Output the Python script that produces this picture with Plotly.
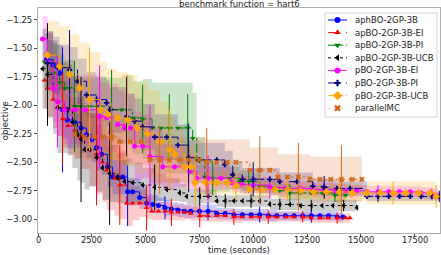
import plotly.graph_objects as go

# ---------------- data ----------------
names = ["aphBO-2GP-3B", "apBO-2GP-3B-EI", "apBO-2GP-3B-PI", "apBO-2GP-3B-UCB",
         "pBO-2GP-3B-EI", "pBO-2GP-3B-PI", "pBO-2GP-3B-UCB", "parallelMC"]

blue_t = [400,700,1000,1140,1373,1700,2000,2257,2500,2722,2955,3234,3466,3700,3932,4164,4397,4723,5050,5328,
          5600,5900,6200,6500,6800,7100,7500,7900,8300,8700,9100,9500,9900,10300,10700,11100,11500,11900,12300,12700,
          13100,13500,13900,14170]
blue_m = [-1.60,-1.65,-1.72,-2.04,-2.13,-2.15,-2.20,-2.26,-2.30,-2.37,-2.43,-2.54,-2.63,-2.63,-2.63,-2.76,-2.76,-2.81,-2.86,-2.87,
          -2.88,-2.90,-2.91,-2.92,-2.93,-2.93,-2.93,-2.93,-2.95,-2.95,-2.96,-2.96,-2.96,-2.96,-2.97,-2.97,-2.97,-2.97,-2.97,-2.97,
          -2.97,-2.97,-2.98,-2.98]
blue_s = [0.25,0.25,0.25,0.25,0.25,0.22,0.22,0.2,0.2,0.2,0.18,0.18,0.15,0.15,0.15,0.12,0.12,0.1,0.08,0.08,
          0.07,0.07,0.06,0.06,0.06,0.06,0.06,0.06,0.05,0.05,0.05,0.05,0.05,0.05,0.05,0.04,0.04,0.04,0.04,0.04,
          0.04,0.04,0.04,0.04]
blue_e = [0,0,0,0.55,0,0,0,0,0,0.45,0,0,0,0,0,0.3,0,0,0,0,
          0,0.1,0,0,0,0,0,0.08,0,0,0,0,0,0.07,0,0,0,0,0,0.06,
          0,0,0,0]

red_t = [300,442,700,907,1140,1400,1700,2000,2396,2722,3000,3187,3560,3800,4118,4397,4723,5048,5281,5600,
         5900,6200,6500,6800,7100,7515,7900,8300,8700,9100,9500,9900,10300,10700,11100,11500,11900,12300,12700,13100,
         13500,13900,14300,14500]
red_m = [-1.78,-1.85,-1.95,-2.02,-2.12,-2.18,-2.22,-2.28,-2.39,-2.43,-2.50,-2.57,-2.64,-2.70,-2.86,-2.86,-2.86,-2.90,-2.93,-2.93,
         -2.93,-2.94,-2.94,-2.94,-2.95,-2.97,-2.97,-2.97,-2.97,-2.98,-2.98,-2.98,-2.98,-2.98,-2.98,-2.98,-2.98,-2.98,-2.99,-2.99,
         -2.99,-2.99,-2.99,-2.99]
red_s = [0.25,0.25,0.25,0.25,0.25,0.25,0.25,0.28,0.32,0.35,0.35,0.35,0.33,0.3,0.2,0.15,0.12,0.1,0.08,0.08,
         0.08,0.07,0.07,0.06,0.06,0.05,0.05,0.05,0.05,0.05,0.04,0.04,0.04,0.04,0.04,0.04,0.04,0.04,0.04,0.04,
         0.04,0.04,0.04,0.04]
red_e = [0,0,0,0,0.4,0,0,0,0,0.45,0,0,0,0.35,0,0,0,0.2,0,0,
         0,0.12,0,0,0,0.1,0,0,0,0.07,0,0,0,0.06,0,0,0,0.05,0,0,
         0,0.05,0,0]

green_t = [300,700,1000,1233,1466,1698,2000,2396,2862,3420,3885,4397,4862,5300,5700,6100,6500,6956,7189,7375,
           7747,8119,8500,8900,9376,9800,10306,10771,11237,11700,12200,12700,13200,13796,14300]
green_m = [-1.62,-1.72,-1.80,-1.85,-1.85,-2.01,-2.01,-2.01,-2.01,-2.04,-2.04,-2.11,-2.12,-2.20,-2.20,-2.20,-2.20,-2.20,-2.29,-2.48,
           -2.63,-2.64,-2.64,-2.64,-2.67,-2.67,-2.71,-2.72,-2.75,-2.77,-2.77,-2.77,-2.77,-2.79,-2.79]
green_s = [0.25,0.25,0.25,0.25,0.25,0.25,0.25,0.25,0.25,0.28,0.3,0.32,0.35,0.4,0.4,0.4,0.4,0.4,0.4,0.2,
           0.15,0.12,0.12,0.1,0.1,0.08,0.07,0.07,0.06,0.06,0.06,0.06,0.06,0.06,0.06]
green_e = [0,0,0,0,0,0.4,0,0,0,0.35,0,0,0.3,0,0,0.3,0,0.3,0,0,
           0,0.15,0,0,0,0.1,0,0,0,0.08,0,0,0,0.06,0]

black_t = [209,442,700,907,1373,1600,1838,2000,2164,2396,2722,3000,3327,3700,4025,4397,4862,5421,5979,6584,
           6910,7515,7900,8306,8700,9100,9500,9900,10300,10771,11237,11700,12200,12700,13200,13700,14200,14820]
black_m = [-1.68,-1.73,-1.85,-2.02,-2.04,-2.15,-2.26,-2.30,-2.39,-2.39,-2.46,-2.55,-2.60,-2.64,-2.67,-2.68,-2.70,-2.72,-2.74,-2.77,
           -2.80,-2.80,-2.80,-2.84,-2.84,-2.84,-2.84,-2.84,-2.84,-2.87,-2.87,-2.87,-2.88,-2.88,-2.88,-2.88,-2.88,-2.90]
black_s = [0.35,0.38,0.4,0.4,0.4,0.4,0.4,0.38,0.35,0.32,0.3,0.28,0.25,0.22,0.2,0.18,0.15,0.12,0.1,0.08,
           0.07,0.06,0.06,0.05,0.05,0.05,0.05,0.05,0.05,0.05,0.05,0.05,0.05,0.05,0.05,0.05,0.05,0.05]
black_e = [0,0.45,0,0,0,0,0,0.55,0,0,0,0,0.45,0,0,0,0,0.2,0,0,
           0,0.08,0,0,0.06,0,0,0.06,0,0,0.05,0,0,0.05,0,0,0.05,0]

mag_t = [209,442,700,907,1233,1700,2200,2862,3187,3700,4025,4300,4490,4862,5200,5793,6350,7049,7375,7900,
         8500,9000,9500,10000,10771,11500,12200,12772,13300,13800,14300,14800,15285,15800,16300,16800,17300,17800,18300,18600]
mag_m = [-1.42,-1.62,-1.85,-1.97,-2.04,-2.04,-2.04,-2.10,-2.11,-2.17,-2.20,-2.20,-2.36,-2.36,-2.45,-2.54,-2.54,-2.58,-2.64,-2.64,
         -2.64,-2.68,-2.70,-2.70,-2.72,-2.73,-2.73,-2.74,-2.74,-2.75,-2.75,-2.75,-2.76,-2.76,-2.76,-2.76,-2.76,-2.77,-2.78,-2.80]
mag_s = [0.2,0.25,0.3,0.3,0.3,0.3,0.3,0.3,0.3,0.3,0.3,0.3,0.3,0.28,0.25,0.2,0.18,0.15,0.12,0.1,
         0.1,0.08,0.08,0.07,0.07,0.06,0.06,0.06,0.06,0.06,0.05,0.05,0.05,0.05,0.05,0.05,0.05,0.05,0.05,0.05]
mag_e = [0,0,0,0.4,0,0,0,0.45,0,0,0,0,0,0,0.45,0,0,0,0,0.2,
         0,0,0,0,0.1,0,0,0,0.08,0,0,0,0,0.06,0,0,0,0,0.05,0]

navy_t = [442,907,1466,1838,2257,2722,3187,3327,4118,4490,4862,5421,5979,6500,7000,7500,8306,8678,9050,9500,
          10000,10771,11237,12028,12772,13300,13889,14500,15285,15800,16300,16800,17300,17800,18300,18650]
navy_m = [-1.63,-1.67,-1.69,-1.79,-1.91,-1.95,-1.98,-2.04,-2.10,-2.14,-2.19,-2.28,-2.28,-2.35,-2.46,-2.48,-2.48,-2.52,-2.61,-2.65,
          -2.65,-2.65,-2.67,-2.67,-2.71,-2.72,-2.73,-2.73,-2.80,-2.80,-2.80,-2.80,-2.80,-2.80,-2.80,-2.80]
navy_s = [0.2,0.2,0.2,0.2,0.2,0.2,0.2,0.2,0.2,0.2,0.2,0.2,0.2,0.18,0.15,0.15,0.15,0.12,0.12,0.1,
          0.1,0.1,0.08,0.08,0.07,0.07,0.06,0.06,0.04,0.04,0.04,0.04,0.04,0.04,0.04,0.04]
navy_e = [0,0,0.35,0,0,0,0,0,0.35,0,0,0,0,0,0.3,0,0,0,0,0,
          0.15,0,0,0,0,0.1,0,0,0,0.05,0,0,0,0,0,0.05]

orange_t = [442,1000,1466,1931,2396,2900,3234,3699,4164,4600,5100,5653,6119,6351,6800,7100,7300,7800,8300,8800,
            9200,9841,10400,11000,11600,12200,12800,13400,14000,14600,15285,15900,16500,17100,17700,18200,18500]
orange_m = [-1.56,-1.66,-1.73,-1.85,-1.95,-2.04,-2.08,-2.11,-2.13,-2.20,-2.25,-2.32,-2.39,-2.43,-2.54,-2.54,-2.68,-2.68,-2.68,-2.68,
            -2.71,-2.74,-2.74,-2.74,-2.74,-2.75,-2.76,-2.76,-2.76,-2.77,-2.77,-2.77,-2.77,-2.77,-2.77,-2.77,-2.80]
orange_s = [0.3,0.35,0.35,0.4,0.42,0.42,0.4,0.4,0.4,0.4,0.38,0.35,0.3,0.25,0.2,0.18,0.1,0.1,0.1,0.1,
            0.08,0.07,0.07,0.07,0.07,0.07,0.07,0.07,0.07,0.07,0.1,0.1,0.1,0.1,0.1,0.1,0.1]
orange_e = [0,0,0,0,0.45,0,0,0,0.4,0,0,0,0.35,0,0,0,0.25,0,0,0,
            0.12,0,0,0,0.1,0,0,0,0.1,0,0,0,0.1,0,0,0,0.1]

mc_t = [1700,2164,2600,3000,3420,3800,4300,4800,5200,5653,6100,6584,7000,7500,7840,8300,8800,9200,9841,10306,
        10771,11144,11600,12100,12632,13100,13600,14100,14600,15050]
mc_m = [-2.26,-2.28,-2.28,-2.28,-2.28,-2.32,-2.32,-2.32,-2.48,-2.48,-2.48,-2.48,-2.48,-2.48,-2.50,-2.50,-2.50,-2.50,-2.57,-2.57,
        -2.57,-2.63,-2.63,-2.63,-2.65,-2.65,-2.65,-2.65,-2.65,-2.65]
mc_s = [0.2,0.2,0.2,0.2,0.2,0.2,0.2,0.2,0.2,0.2,0.2,0.2,0.2,0.2,0.2,0.2,0.2,0.2,0.2,0.2,
        0.2,0.2,0.2,0.2,0.2,0.2,0.2,0.2,0.2,0.2]
mc_e = [0,0,0,0,0.3,0,0,0,0,0.3,0,0,0,0,0.3,0,0,0,0,0.3,
        0,0,0,0.3,0,0,0,0.3,0,0]

x_ticks = [0, 2500, 5000, 7500, 10000, 12500, 15000, 17500]
x_ticktext = ["0", "2500", "5000", "7500", "10000", "12500", "15000", "17500"]
y_ticks = [-1.25, -1.5, -1.75, -2.0, -2.25, -2.5, -2.75, -3.0]
y_ticktext = ["\u22121.25", "\u22121.50", "\u22121.75", "\u22122.00", "\u22122.25", "\u22122.50", "\u22122.75", "\u22123.00"]

# ---------------- styling ----------------
series = [
    (blue_t, blue_m, blue_s, blue_e, (0, 0, 255), "solid", "circle"),
    (red_t, red_m, red_s, red_e, (255, 0, 0), "dash", "triangle-up"),
    (green_t, green_m, green_s, green_e, (0, 128, 0), "dashdot", "triangle-down"),
    (black_t, black_m, black_s, black_e, (0, 0, 0), "dot", "triangle-left"),
    (mag_t, mag_m, mag_s, mag_e, (255, 0, 255), "solid", "circle"),
    (navy_t, navy_m, navy_s, navy_e, (0, 0, 128), "dash", "cross"),
    (orange_t, orange_m, orange_s, orange_e, (255, 165, 0), "dashdot", "diamond"),
    (mc_t, mc_m, mc_s, mc_e, (210, 105, 30), "dot", "x"),
]
msizes = [5, 5, 5, 5, 5, 4.5, 6, 5]

FONT = "DejaVu Sans"
fig = go.Figure()

# bands
for (t, m, s, e, c, dash, sym) in series:
    up = [mi + si for mi, si in zip(m, s)]
    lo = [mi - si for mi, si in zip(m, s)]
    fig.add_trace(go.Scatter(x=t, y=up, mode="lines", line=dict(width=0, shape="hv"),
                             showlegend=False, hoverinfo="skip"))
    fig.add_trace(go.Scatter(x=t, y=lo, mode="lines", line=dict(width=0, shape="hv"),
                             fill="tonexty", fillcolor="rgba(%d,%d,%d,0.2)" % c,
                             showlegend=False, hoverinfo="skip"))

# lines with markers and error bars
for i, (t, m, s, e, c, dash, sym) in enumerate(series):
    col = "rgb(%d,%d,%d)" % c
    fig.add_trace(go.Scatter(
        x=t, y=m, name=names[i], mode="lines+markers", showlegend=False,
        line=dict(color=col, width=1, dash=dash, shape="hv"),
        marker=dict(color=col, symbol=sym, size=msizes[i], line=dict(width=0)),
        error_y=dict(type="data", array=e, visible=True, color=col, thickness=1, width=0),
    ))

# ---- matplotlib-style legend drawn on an overlay axis measured in pixels ----
LX0, LX1, LY0, LY1 = 325, 437, 13, 117
fig.add_trace(go.Scatter(x=[LX0, LX1, LX1, LX0, LX0], y=[LY0, LY0, LY1, LY1, LY0],
                         xaxis="x2", yaxis="y2", mode="lines", fill="toself",
                         fillcolor="rgba(255,255,255,0.85)", line=dict(color="#d4d4d4", width=1),
                         showlegend=False, hoverinfo="skip"))
annots = []
for i, (t, m, s, e, c, dash, sym) in enumerate(series):
    ry = 20 + i * 12.6
    alpha = 0.35 if i == 7 else 1.0
    col = "rgba(%d,%d,%d,%s)" % (c + (alpha,))
    mcol = "rgb(%d,%d,%d)" % c
    fig.add_trace(go.Scatter(x=[328, 347], y=[ry, ry], xaxis="x2", yaxis="y2", mode="lines",
                             line=dict(color=col, width=1, dash=dash),
                             showlegend=False, hoverinfo="skip"))
    fig.add_trace(go.Scatter(x=[337.5], y=[ry], xaxis="x2", yaxis="y2", mode="markers",
                             marker=dict(color=mcol, symbol=sym, size=msizes[i] + 1, line=dict(width=0)),
                             showlegend=False, hoverinfo="skip"))
    annots.append(dict(text=names[i], xref="x2", yref="y2", x=353, y=ry,
                       xanchor="left", yanchor="middle", showarrow=False,
                       font=dict(size=8.5, color="#222")))

# x tick labels placed just under the axis (matplotlib spacing)
for tv, tt in zip(x_ticks, x_ticktext):
    annots.append(dict(text=tt, xref="x", yref="paper", x=tv, y=-0.0311,
                       xanchor="center", yanchor="middle", showarrow=False,
                       font=dict(size=8.3, color="#222")))

annots += [
    dict(text="benchmark function = hart6", xref="paper", yref="paper",
         x=0.5, y=1.018, xanchor="center", yanchor="middle", showarrow=False,
         font=dict(size=8.5)),
    dict(text="time (seconds)", xref="paper", yref="paper",
         x=0.5, y=-0.0764, xanchor="center", yanchor="middle", showarrow=False,
         font=dict(size=8.3)),
    dict(text="objective", xref="paper", yref="paper", textangle=-90,
         x=-0.083, y=0.5, xanchor="center", yanchor="middle", showarrow=False,
         font=dict(size=8.5)),
]

fig.update_layout(
    width=441, height=255,
    margin=dict(l=38, r=1, t=8, b=22),
    paper_bgcolor="white", plot_bgcolor="white",
    font=dict(family=FONT, size=8.5, color="#222"),
    showlegend=False,
    xaxis=dict(range=[0, 18680], tickvals=x_ticks, showticklabels=False,
               showgrid=False, zeroline=False, showline=True, mirror=True,
               linecolor="#b0b0b0", linewidth=1, ticks="outside", ticklen=3,
               tickcolor="#444", automargin=False),
    yaxis=dict(range=[-3.121, -1.147], tickvals=y_ticks, ticktext=y_ticktext,
               showgrid=False, zeroline=False, showline=True, mirror=True,
               linecolor="#b0b0b0", linewidth=1, ticks="outside", ticklen=3,
               tickcolor="#444", tickfont=dict(size=8.5), automargin=False),
    xaxis2=dict(range=[38, 440], overlaying="x", anchor="y2", visible=False, fixedrange=True),
    yaxis2=dict(range=[233, 8], overlaying="y", anchor="x2", visible=False, fixedrange=True),
    annotations=annots,
)

fig.write_html("out.html", config={"displayModeBar": False, "staticPlot": True},
               post_script="document.body.style.margin='0';")
